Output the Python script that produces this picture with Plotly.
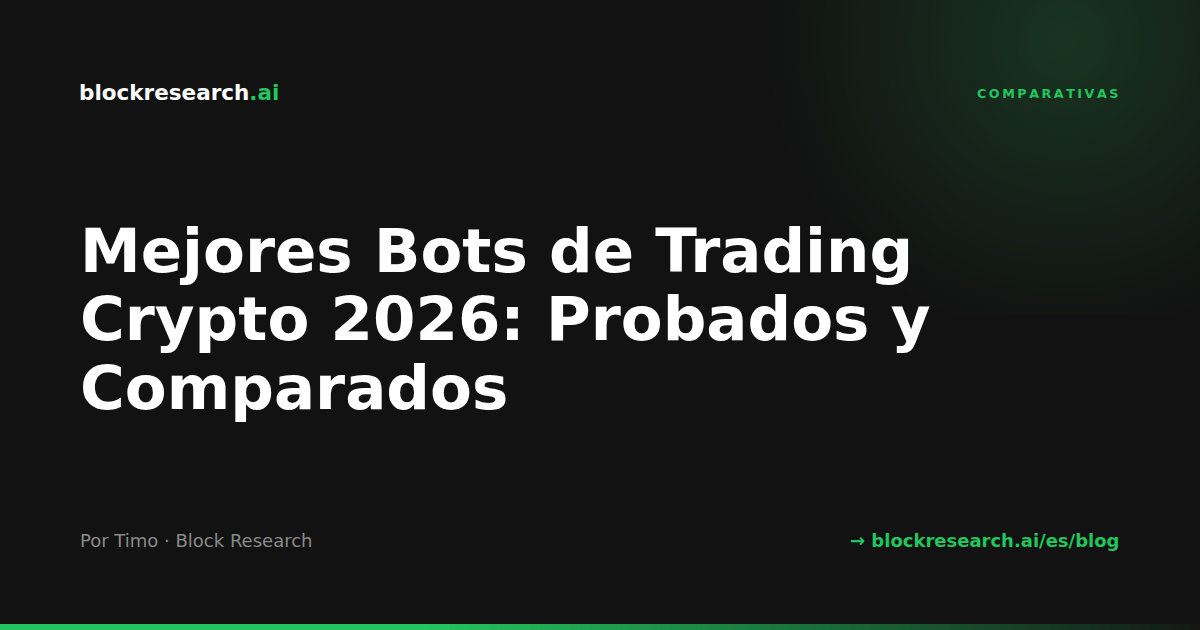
import numpy as np
import plotly.graph_objects as go

W, H = 1200, 630
BG = "#121212"
GREEN = "#22c55e"

brand_main = "blockresearch"
brand_tld = ".ai"
category = "COMPARATIVAS"
title_lines = ["Mejores Bots de Trading", "Crypto 2026: Probados y", "Comparados"]
byline = "Por Timo · Block Research"
link = "→ blockresearch.ai/es/blog"

fig = go.Figure()

# top-right glow (decorative background)
gx = np.arange(700, 1201, 4)
gy = np.arange(0, 316, 4)
GX, GY = np.meshgrid(gx, gy)
dist = np.sqrt((GX - 1065) ** 2 + (GY - 40) ** 2)
glow = np.clip(1 - dist / 300, 0, 1)
fig.add_trace(go.Heatmap(
    x=gx, y=gy, z=glow, zmin=0, zmax=1, zsmooth="best",
    colorscale=[[0, BG], [1, "rgb(24,52,33)"]], showscale=False, hoverinfo="skip"))

# bottom accent bar with fade
bx = np.arange(0, 1201, 10)
centers = (bx[:-1] + bx[1:]) / 2
fade = np.where(centers < 430, 1.0, 1 - (centers - 430) / (1200 - 430) * 0.97)
fig.add_trace(go.Heatmap(
    x=bx, y=[624, 630], z=[fade], zmin=0, zmax=1,
    colorscale=[[0, BG], [1, GREEN]], showscale=False, hoverinfo="skip"))

FONT = "DejaVu Sans"
ann = []
ann.append(dict(x=77, y=92, xanchor="left", yanchor="middle",
                text=f"<b>{brand_main}</b><b><span style='color:{GREEN}'>{brand_tld}</span></b>",
                font=dict(family=FONT, size=21.5, color="#ffffff")))
ann.append(dict(x=1120, y=93, xanchor="right", yanchor="middle",
                text="<b>" + "\u2009".join(category) + "</b>",
                font=dict(family=FONT, size=12.7, color=GREEN)))
for i, line in enumerate(title_lines):
    ann.append(dict(x=78, y=250 + i * 68.5, xanchor="left", yanchor="middle",
                    text=f"<b>{line}</b>",
                    font=dict(family=FONT, size=61, color="#ffffff")))
ann.append(dict(x=78, y=540, xanchor="left", yanchor="middle", text=byline,
                font=dict(family=FONT, size=18, color="#8a8a8a")))
ann.append(dict(x=1121, y=540, xanchor="right", yanchor="middle", text=f"<b>{link}</b>",
                font=dict(family=FONT, size=18, color=GREEN)))
for a in ann:
    a.update(xref="x", yref="y", showarrow=False)

fig.update_layout(
    width=W, height=H, margin=dict(l=0, r=0, t=0, b=0),
    paper_bgcolor=BG, plot_bgcolor=BG,
    xaxis=dict(range=[0, W], visible=False, fixedrange=True),
    yaxis=dict(range=[H, 0], visible=False, fixedrange=True),
    annotations=ann, showlegend=False,
)
fig.write_html(
    "out.html",
    config={"displayModeBar": False},
    post_script="document.body.style.margin='0';document.body.style.overflow='hidden';document.body.style.background='#121212';",
)
